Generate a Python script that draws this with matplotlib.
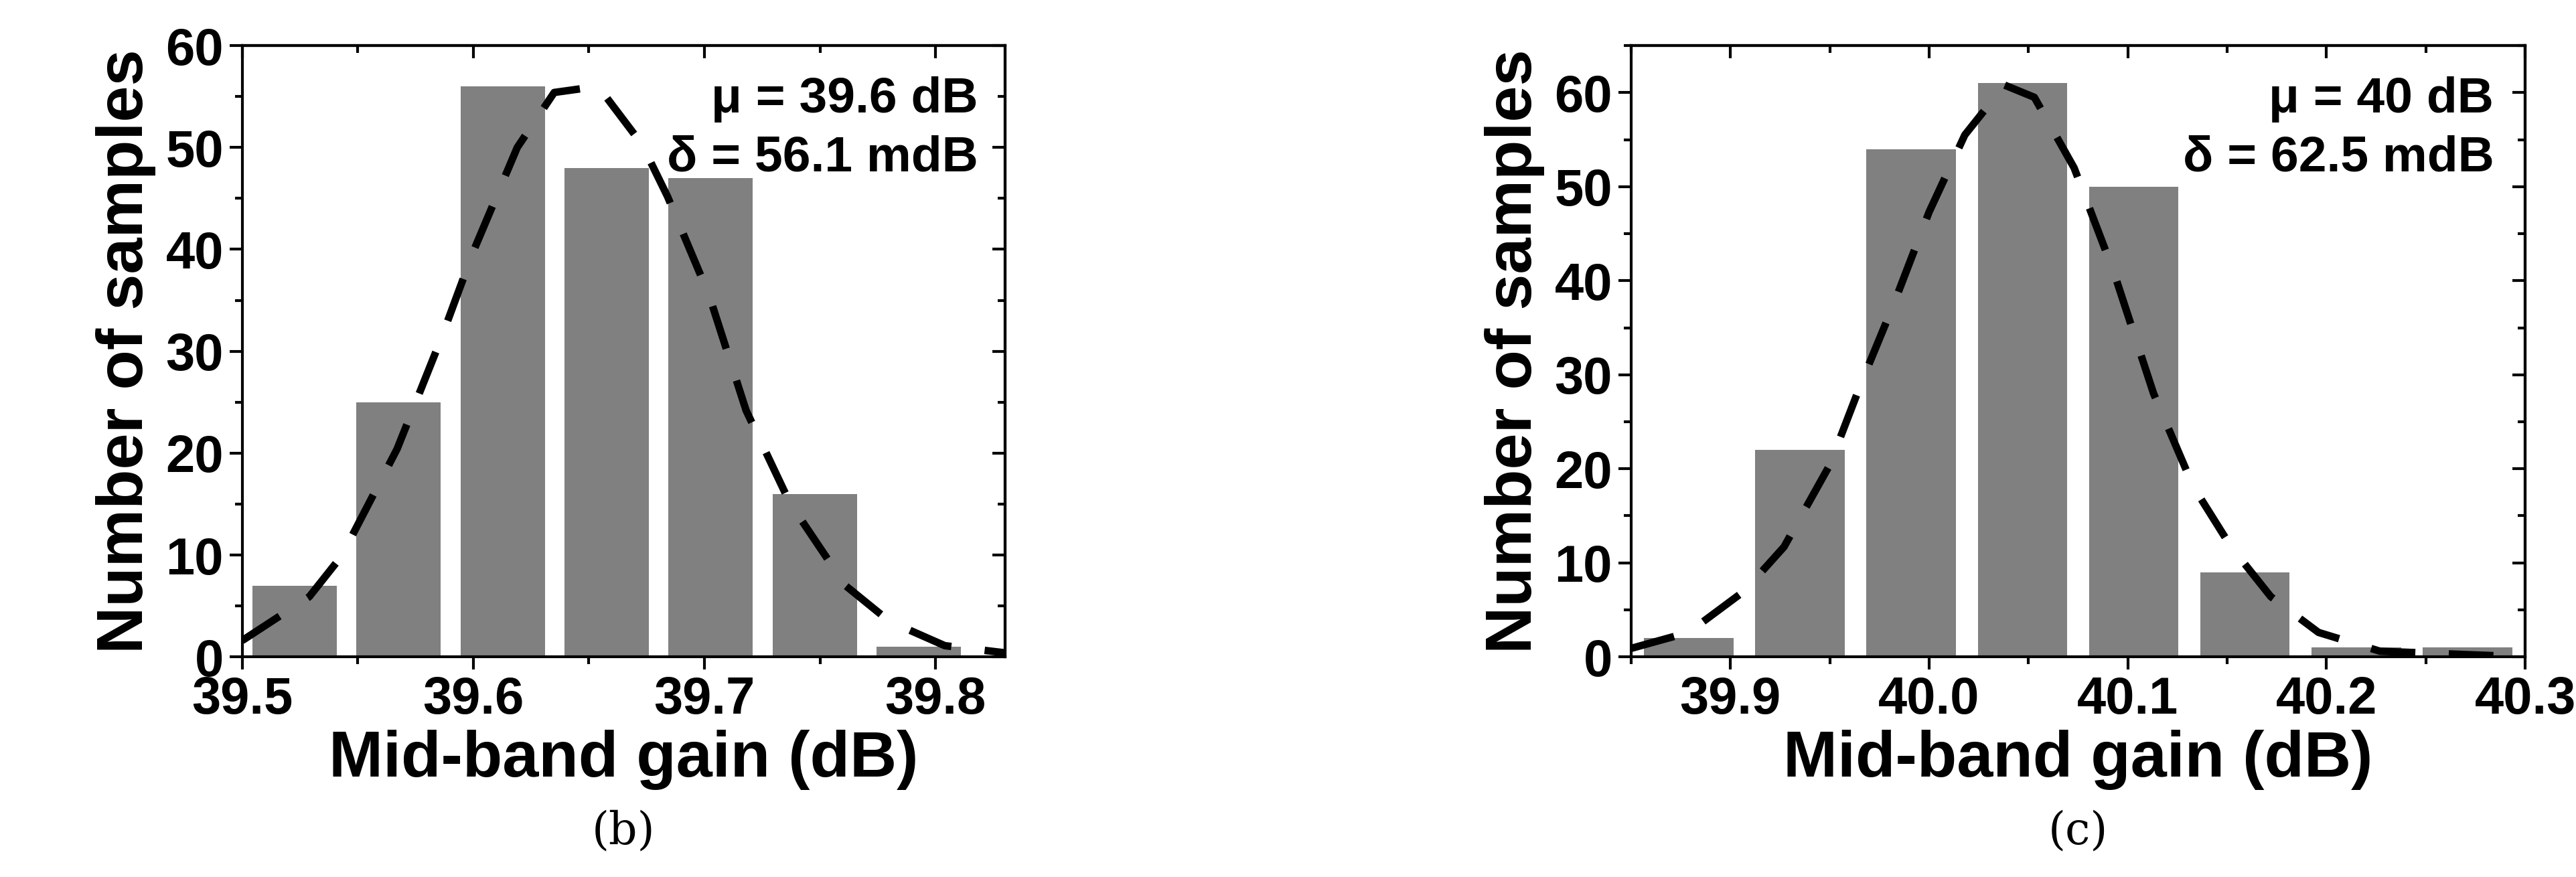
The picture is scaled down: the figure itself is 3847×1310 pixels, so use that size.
import matplotlib
matplotlib.use("Agg")
import matplotlib.pyplot as plt
from matplotlib.ticker import MultipleLocator, AutoMinorLocator

# Panel (b)
b_centers = [39.5227, 39.5677, 39.6127, 39.6577, 39.7027, 39.7477, 39.7927]
b_counts = [7, 25, 56, 48, 47, 16, 1]
b_curve_x = [39.5, 39.529, 39.543, 39.567, 39.586, 39.6, 39.619, 39.635, 39.654, 39.673,
             39.684, 39.702, 39.718, 39.737, 39.761, 39.78, 39.804, 39.83]
b_curve_y = [1.6, 5.9, 9.9, 20.4, 31.2, 39.8, 50, 55.4, 56, 50.3,
             45.2, 35.5, 24.2, 15.1, 7, 3.5, 1.1, 0.4]
b_ticks = [39.5, 39.6, 39.7, 39.8]

# Panel (c)
c_centers = [39.879, 39.935, 39.991, 40.047, 40.103, 40.159, 40.215, 40.271]
c_counts = [2, 22, 54, 61, 50, 9, 1, 1]
c_curve_x = [39.85, 39.879, 39.907, 39.927, 39.95, 39.966, 39.982, 40.0, 40.018, 40.038,
             40.053, 40.073, 40.093, 40.113, 40.133, 40.152, 40.172, 40.196, 40.227, 40.3]
c_curve_y = [0.9, 2.6, 7, 11.7, 20.4, 29.2, 37.4, 47.3, 55.5, 60.8,
             59.5, 52, 40.9, 28, 18.1, 11.7, 6.4, 2.6, 0.6, 0]
c_ticks = [39.9, 40.0, 40.1, 40.2, 40.3]

FONT = ["Liberation Sans Narrow", "Liberation Sans"]
fig = plt.figure(figsize=(38.48, 13.10), dpi=100)

def panel(rect, centers, counts, width, cx, cy, xlim, ylim, xt, ymaj, note, tag):
    ax = fig.add_axes(rect)
    ax.bar(centers, counts, width=width, color="#808080", zorder=1)
    ax.plot(cx, cy, color="black", lw=8, ls=(0, (6, 4.5)), zorder=2, clip_on=True)
    ax.set_xlim(*xlim); ax.set_ylim(*ylim)
    ax.set_xticks(xt)
    ax.set_xticklabels([f"{t:.1f}" for t in xt])
    ax.yaxis.set_major_locator(MultipleLocator(ymaj))
    ax.xaxis.set_minor_locator(AutoMinorLocator(2))
    ax.yaxis.set_minor_locator(AutoMinorLocator(2))
    for s in ax.spines.values():
        s.set_linewidth(3)
    ax.tick_params(which="both", direction="out", width=3, top=False, right=False)
    ax.tick_params(which="major", length=14, pad=6)
    ax.tick_params(which="minor", length=8)
    sec = ax.secondary_yaxis("right")
    sec.yaxis.set_major_locator(MultipleLocator(ymaj))
    sec.yaxis.set_minor_locator(AutoMinorLocator(2))
    sec.tick_params(which="both", direction="in", width=3, labelright=False)
    sec.tick_params(which="major", length=14); sec.tick_params(which="minor", length=8)
    sec.spines["right"].set_linewidth(3)
    sect = ax.secondary_xaxis("top")
    sect.set_xticks(xt)
    sect.xaxis.set_minor_locator(AutoMinorLocator(2))
    sect.tick_params(which="both", direction="in", width=3, labeltop=False)
    sect.tick_params(which="major", length=14); sect.tick_params(which="minor", length=8)
    sect.spines["top"].set_linewidth(3)
    for lab in ax.get_xticklabels() + ax.get_yticklabels():
        lab.set_fontfamily(FONT); lab.set_fontweight("bold"); lab.set_fontsize(56)
    ax.set_xlabel("Mid-band gain (dB)", fontfamily=FONT, fontweight="bold", fontsize=70, labelpad=6)
    ax.set_ylabel("Number of samples", fontfamily=FONT, fontweight="bold", fontsize=70, labelpad=10)
    ax.text(0.965, 0.95, note, transform=ax.transAxes, ha="right", va="top",
            fontfamily=FONT, fontweight="bold", fontsize=54, linespacing=1.35)
    ax.text(0.5, -0.285, tag, transform=ax.transAxes, ha="center", va="center",
            fontfamily="DejaVu Serif", fontsize=48)
    return ax

panel([0.094, 0.251, 0.296, 0.697], b_centers, b_counts, 0.0365, b_curve_x, b_curve_y,
      (39.5, 39.83), (0, 60), b_ticks, 10, "μ = 39.6 dB\nδ = 56.1 mdB", "(b)")
panel([0.633, 0.251, 0.347, 0.697], c_centers, c_counts, 0.045, c_curve_x, c_curve_y,
      (39.85, 40.3), (0, 65), c_ticks, 10, "μ = 40 dB\nδ = 62.5 mdB", "(c)")

fig.savefig("out.png", dpi=100)
